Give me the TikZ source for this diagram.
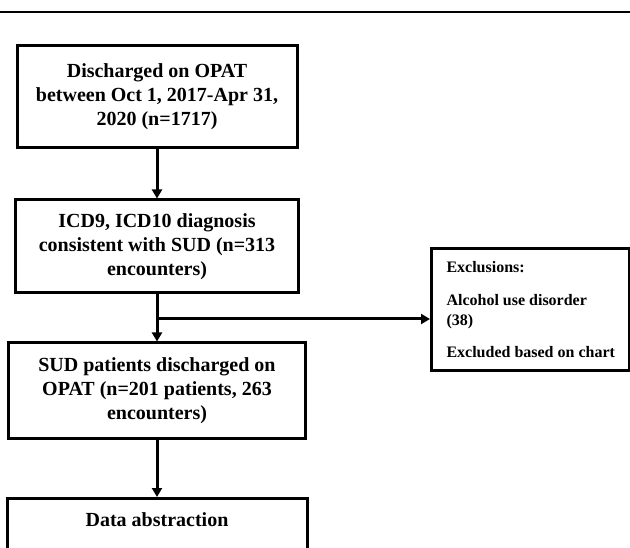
\documentclass[tikz,border=0pt]{standalone}
\usepackage{fontspec}
\setmainfont{Liberation Serif}
\usetikzlibrary{arrows.meta,positioning}

\begin{document}
\begin{tikzpicture}[x=1pt, y=-1pt, >={Triangle[length=9pt,width=10pt]},
  flowbox/.style={draw, line width=3pt, align=center, inner sep=0pt,
    font=\bfseries\fontsize{20}{24}\selectfont},
  exclbox/.style={draw, line width=3pt, align=left, inner xsep=15pt, inner ysep=0pt,
    font=\bfseries\fontsize{16}{20}\selectfont},
  flowarrow/.style={->, line width=3pt}]
  \clip (0,0) rectangle (630,548);
  \draw[line width=2pt] (0,12) -- (630,12);
  % main flow
  \node[flowbox, minimum width=280pt, minimum height=102pt] (dis) at (157,97)
    {Discharged on OPAT\\between Oct 1, 2017-Apr 31,\\2020 (n=1717)};
  \node[flowbox, minimum width=283pt, minimum height=93pt] (icd) at (157,246.5)
    {ICD9, ICD10 diagnosis\\consistent with SUD (n=313\\encounters)};
  \node[flowbox, minimum width=297pt, minimum height=95pt] (sud) at (157,390.5)
    {SUD patients discharged on\\OPAT (n=201 patients, 263\\encounters)};
  \node[flowbox, anchor=north, minimum width=300pt, text height=28pt, text depth=50pt] (abs) at (157,497)
    {Data abstraction};
  % exclusions
  \node[exclbox, anchor=west, minimum height=122pt] (excl) at (430,310)
    {Exclusions:\\[13pt]Alcohol use disorder\\(38)\\[12pt]Excluded based on chart};
  \coordinate (split) at (157,319);
  % arrows
  \draw[flowarrow] (dis.south) -- (icd.north);
  \draw[flowarrow] (icd.south) -- (sud.north);
  \draw[flowarrow] (split) -- (split -| excl.west);
  \draw[flowarrow] (sud.south) -- (abs.north);
\end{tikzpicture}
\end{document}
